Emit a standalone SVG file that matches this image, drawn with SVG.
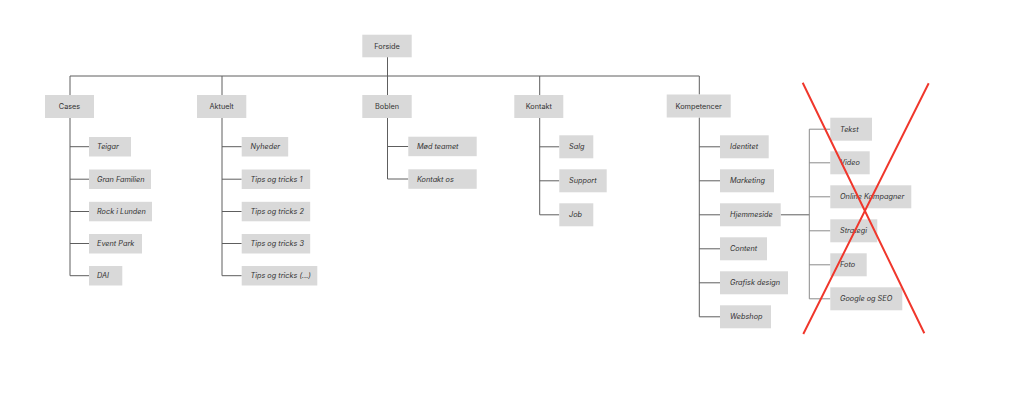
<svg xmlns="http://www.w3.org/2000/svg" width="1024" height="405" viewBox="0 0 1024 405">
<style>
.b{fill:#d9d9d9}
.t{font-family:Inter,"Noto Sans","Liberation Sans",sans-serif;font-size:7.3px;fill:#333}
.c{text-anchor:middle}
.i{font-style:italic}
.ln{stroke:#5e5e5e;stroke-width:1;fill:none}
.ln2{stroke:#8a8a8a;stroke-width:1;fill:none}
.x{stroke:#f0372c;stroke-width:2;fill:none}
</style>
<rect width="1024" height="405" fill="#fff"/>
<g id="connectors">
<path class="ln" d="M387.5 57V95M70 76H699.3M70 76V95M222 76V95M539.7 76V95M699.3 76V94.5"/>
<path class="ln" d="M70 118V275.7M70 146.7H89M70 179.2H89M70 211.5H89M70 243.5H89M70 275.7H89"/>
<path class="ln" d="M222 118V275.7M222 146.7H241.7M222 179.2H241.7M222 211.5H241.7M222 243.5H241.7M222 275.7H241.7"/>
<path class="ln" d="M387.5 118V179M387.5 146.5H408.3M387.5 179H408.3"/>
<path class="ln" d="M539.7 118V214.8M539.7 146.8H559.3M539.7 180.8H559.3M539.7 214.8H559.3"/>
<path class="ln" d="M699.3 117.5V316.8M699.3 146.8H720M699.3 180.8H720M699.3 214.8H720M699.3 248.8H720M699.3 282.8H720M699.3 316.8H720M780.7 214.8H809.3"/>
<path class="ln2" d="M809.3 129.2V298.8M809.3 129.2H830.3M809.3 162.8H830.3M809.3 196.8H830.3M809.3 230.8H830.3M809.3 264.8H830.3M809.3 298.8H830.3"/>
</g>
<g id="forside"><rect class="b" x="362.3" y="34.7" width="49.4" height="22.6"/><text class="t c" x="387" y="48.6">Forside</text></g>
<g id="cases"><rect class="b" x="45" y="95" width="49" height="23"/><text class="t c" x="69.5" y="109.1">Cases</text></g>
<g id="aktuelt"><rect class="b" x="197" y="95" width="49.3" height="23"/><text class="t c" x="221.6" y="109.1">Aktuelt</text></g>
<g id="boblen"><rect class="b" x="362.3" y="95" width="49.4" height="23"/><text class="t c" x="387" y="109.1">Boblen</text></g>
<g id="kontakt"><rect class="b" x="514.3" y="95" width="49" height="23"/><text class="t c" x="538.8" y="109.1">Kontakt</text></g>
<g id="kompetencer"><rect class="b" x="666.7" y="94.5" width="64" height="23"/><text class="t c" x="698.7" y="108.6">Kompetencer</text></g>
<g id="teigar"><rect class="b" x="89" y="137" width="42" height="19.5"/><text class="t i" x="97" y="149.3">Teigar</text></g>
<g id="gran-familien"><rect class="b" x="89" y="169.5" width="62" height="19.5"/><text class="t i" x="97" y="181.8">Gran Familien</text></g>
<g id="rock-i-lunden"><rect class="b" x="89" y="201.8" width="63" height="19.5"/><text class="t i" x="97" y="214.1">Rock i Lunden</text></g>
<g id="event-park"><rect class="b" x="89" y="234" width="53" height="19.5"/><text class="t i" x="97" y="246.1">Event Park</text></g>
<g id="dai"><rect class="b" x="89" y="266" width="33.3" height="19.5"/><text class="t i" x="97" y="278.3">DAI</text></g>
<g id="nyheder"><rect class="b" x="241.7" y="137" width="46.5" height="19.5"/><text class="t i" x="250.5" y="149.3">Nyheder</text></g>
<g id="tips1"><rect class="b" x="241.7" y="169.5" width="68.5" height="19.5"/><text class="t i" x="250.5" y="181.8">Tips og tricks 1</text></g>
<g id="tips2"><rect class="b" x="241.7" y="201.8" width="68.5" height="19.5"/><text class="t i" x="250.5" y="214.1">Tips og tricks 2</text></g>
<g id="tips3"><rect class="b" x="241.7" y="234" width="68.5" height="19.5"/><text class="t i" x="250.5" y="246.1">Tips og tricks 3</text></g>
<g id="tips-more"><rect class="b" x="241.7" y="266" width="75.6" height="19.5"/><text class="t i" x="250.5" y="278.3">Tips og tricks (...)</text></g>
<g id="mod-teamet"><rect class="b" x="408.3" y="136.7" width="68.4" height="19.5"/><text class="t i" x="417" y="149">Mød teamet</text></g>
<g id="kontakt-os"><rect class="b" x="408.3" y="169.3" width="68.4" height="19.5"/><text class="t i" x="417" y="181.6">Kontakt os</text></g>
<g id="salg"><rect class="b" x="559.3" y="135.3" width="34" height="23"/><text class="t i" x="569" y="149.4">Salg</text></g>
<g id="support"><rect class="b" x="559.3" y="169.3" width="47.4" height="23"/><text class="t i" x="569" y="183.4">Support</text></g>
<g id="job"><rect class="b" x="559.3" y="203.3" width="34" height="23"/><text class="t i" x="569" y="217.4">Job</text></g>
<g id="identitet"><rect class="b" x="720" y="135.3" width="48.7" height="23"/><text class="t i" x="730" y="149.4">Identitet</text></g>
<g id="marketing"><rect class="b" x="720" y="169.3" width="54" height="23"/><text class="t i" x="730" y="183.4">Marketing</text></g>
<g id="hjemmeside"><rect class="b" x="720" y="203.3" width="60.7" height="23"/><text class="t i" x="730" y="217.4">Hjemmeside</text></g>
<g id="content"><rect class="b" x="720" y="237.3" width="47" height="23"/><text class="t i" x="730" y="251.4">Content</text></g>
<g id="grafisk-design"><rect class="b" x="720" y="271.3" width="68" height="23"/><text class="t i" x="730" y="285.4">Grafisk design</text></g>
<g id="webshop"><rect class="b" x="720" y="305.3" width="51" height="23"/><text class="t i" x="730" y="319.4">Webshop</text></g>
<g id="tekst"><rect class="b" x="830.3" y="117.7" width="41.7" height="23"/><text class="t i" x="840" y="131.8">Tekst</text></g>
<g id="video"><rect class="b" x="830.3" y="151.3" width="39.4" height="23"/><text class="t i" x="840" y="165.4">Video</text></g>
<g id="online-kampagner"><rect class="b" x="830.3" y="185.3" width="81" height="23"/><text class="t i" x="840" y="199.4">Online Kampagner</text></g>
<g id="strategi"><rect class="b" x="830.3" y="219.3" width="47" height="23"/><text class="t i" x="840" y="233.4">Strategi</text></g>
<g id="foto"><rect class="b" x="830.3" y="253.3" width="36.4" height="23"/><text class="t i" x="840" y="267.4">Foto</text></g>
<g id="google-seo"><rect class="b" x="830.3" y="287.3" width="72" height="23"/><text class="t i" x="840" y="301.4">Google og SEO</text></g>
<g id="cross"><path class="x" d="M802.7 82.7L924.3 333.3M928.7 83.3L803.3 334"/></g>
</svg>
